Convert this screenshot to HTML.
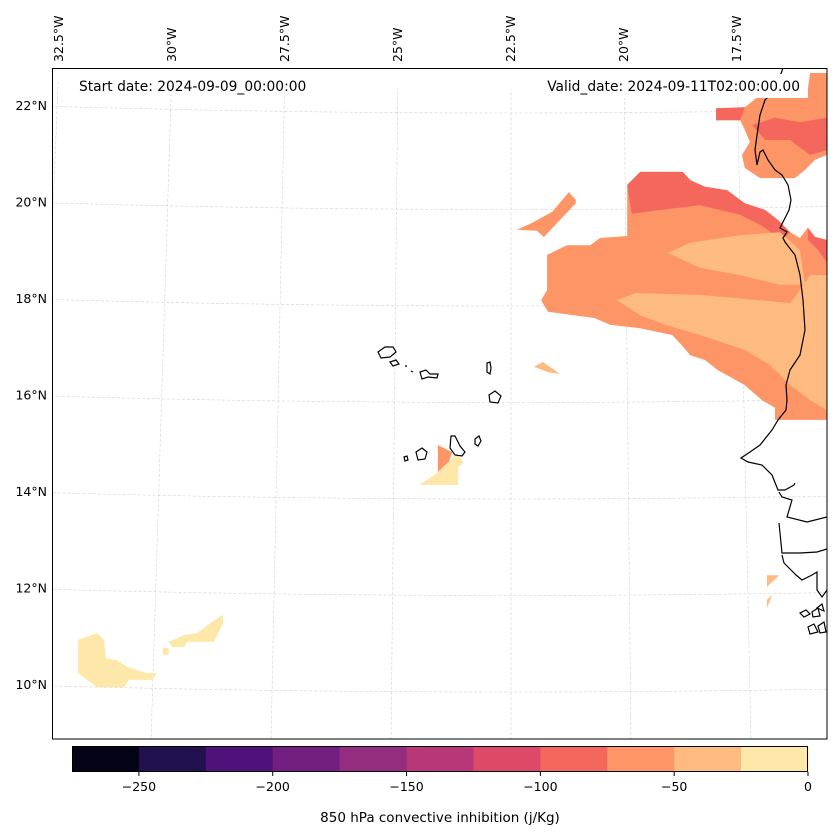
<!DOCTYPE html>
<html><head><meta charset="utf-8"><style>
html,body{margin:0;padding:0;background:#fff;overflow:hidden;font-family:"Liberation Sans","DejaVu Sans",sans-serif}
svg{display:block}
svg text{font-family:"DejaVu Sans","Liberation Sans",sans-serif;fill:#000}
</style></head><body>
<svg id="chart" width="837" height="836" viewBox="0 0 837 836" xmlns="http://www.w3.org/2000/svg">
<defs><clipPath id="mapclip"><rect x="52" y="68" width="775" height="671"/></clipPath></defs>
<rect width="837" height="836" fill="#fff"/>
<g id="grid" clip-path="url(#mapclip)"></g>
<g id="fields" clip-path="url(#mapclip)"></g>
<g id="coast" clip-path="url(#mapclip)" fill="none" stroke="#000" stroke-width="1.2">
<path d="M783,68 L775,90 L765,100 L760,115 L757,135 L755,150 L757,165 L760,152 L763,150 L768,160 L775,170 L782,175 L788,185 L791,200 L789,210 L783,222 L780,228 L787,232 L783,238 L785,242 L795,255 L800,275 L803,300 L805,330 L800,355 L790,370 L786,385 L787,400 L786,410 L778,420 L772,430 L760,445 L750,452 L741,458 L748,462 L762,465 L772,475 L778,490 L785,490 L794,485 L795,483 M779,492 L782,497 L792,500 L787,517 L807,522 L827,517 M779,523 L782,553 L800,553 L817,552 L827,549 M782,555 L784,563 L796,575 L802,580 L812,575 L817,572 L817,590 L822,597 L827,590"/>
<path d="M800,613 L806,610 L810,614 L804,617 Z M812,612 L818,608 L820,616 L813,617 Z M808,627 L814,624 L818,632 L810,634 Z M818,626 L824,622 L826,632 L820,633 Z M817,608 L822,604 L824,611 Z"/>
<path d="M378,352 L385,347 L393,347 L396,352 L390,357 L381,358 Z"/>
<path d="M390,362 L396,360 L399,364 L393,366 Z"/>
<path d="M420,372 L426,370 L430,374 L438,374 L437,378 L428,377 L422,379 Z"/>
<path d="M405,366 L407,366 M411,371 L413,372"/>
<path d="M487,363 L490,362 L491,368 L490,374 L487,372 Z"/>
<path d="M489,395 L495,391 L501,396 L498,403 L490,402 Z"/>
<path d="M475,439 L479,436 L481,441 L478,446 L475,444 Z"/>
<path d="M451,436 L455,436 L460,446 L465,452 L462,456 L455,455 L450,448 Z"/>
<path d="M416,452 L422,448 L427,452 L425,459 L418,460 Z"/>
<path d="M404,457 L407,456 L408,460 L405,461 Z"/>
</g>
<rect x="52.5" y="68.5" width="774.5" height="670.5" fill="none" stroke="#000" stroke-width="1"/>
<text x="79" y="91" font-size="13.8">Start date: 2024-09-09_00:00:00</text>
<rect x="538" y="74" width="270" height="24" fill="#fff"/>
<text x="800" y="91" font-size="13.8" text-anchor="end">Valid_date: 2024-09-11T02:00:00.00</text>
<g id="latlabels" font-size="12.5"></g>
<g id="lonlabels" font-size="12.5"></g>
<g id="cbar"></g>
<text x="440" y="822" font-size="13.5" text-anchor="middle">850 hPa convective inhibition (j/Kg)</text>
</svg>
<script>
// colorbar levels and colours
const levelBounds = [-275,-250,-225,-200,-175,-150,-125,-100,-75,-50,-25,0];
const levelColors = ["#050416","#21114e","#4f127b","#721f81","#942c80","#b73779","#dd4a69","#f3675c","#fd9567","#febb81","#fde7a9"];
const cbarTicks = [-250,-200,-150,-100,-50,0];
const latTicks = [22,20,18,16,14,12,10];
const lonTicks = [-32.5,-30,-27.5,-25,-22.5,-20,-17.5];
const gridLats = [10,12,14,16,18,20,22];
// filled contour regions: CIN value per region, and outlines in [lon,lat]
const regionValues = [-62,-88,-88,-37,-37,-62,-88,-88,-62,-37,-62,-12,-12,-12,-12,-37,-37];
const regionShapes = [
 [[-19.99,20.51],[-19.71,20.78],[-18.79,20.78],[-18.63,20.61],[-18.31,20.47],[-17.83,20.40],[-17.45,20.13],[-17.01,19.99],[-16.73,19.78],[-16.47,19.53],[-16.26,19.41],[-16.09,19.62],[-15.93,19.43],[-15.68,19.37],[-15.68,15.64],[-16.80,15.64],[-16.80,15.89],[-17.08,16.05],[-17.45,16.36],[-17.73,16.51],[-18.03,16.67],[-18.31,16.88],[-18.63,16.98],[-18.81,17.19],[-19.02,17.40],[-19.71,17.54],[-20.36,17.61],[-20.69,17.75],[-21.70,17.88],[-21.85,18.12],[-21.72,18.33],[-21.72,19.06],[-21.29,19.26],[-20.79,19.26],[-20.58,19.41],[-19.99,19.45]],
 [[-19.99,20.51],[-19.71,20.78],[-18.79,20.78],[-18.63,20.61],[-18.31,20.47],[-17.83,20.40],[-17.45,20.13],[-17.01,19.99],[-16.73,19.78],[-16.47,19.53],[-16.65,19.37],[-17.08,19.66],[-17.55,19.89],[-18.42,20.09],[-19.28,19.99],[-19.89,19.91]],
 [[-16.09,19.62],[-15.93,19.43],[-15.68,19.37],[-15.68,18.91],[-15.87,19.16],[-16.09,19.37]],
 [[-19.11,19.10],[-18.63,19.31],[-17.55,19.47],[-16.69,19.53],[-16.26,19.16],[-16.15,18.44],[-16.69,18.44],[-17.55,18.64],[-18.42,18.79]],
 [[-20.21,18.12],[-19.82,18.27],[-18.42,18.23],[-17.12,18.12],[-16.47,18.06],[-16.26,18.33],[-16.04,18.64],[-15.68,18.64],[-15.68,15.84],[-16.04,16.05],[-16.47,16.36],[-16.91,16.78],[-17.45,17.09],[-18.42,17.40],[-19.17,17.61],[-19.71,17.81]],
 [[-18.07,21.85],[-18.07,22.10],[-17.45,22.12],[-17.12,22.37],[-16.91,22.44],[-16.09,22.48],[-16.04,22.83],[-15.68,22.83],[-15.68,21.13],[-15.93,21.03],[-16.15,20.82],[-16.37,20.65],[-17.12,20.65],[-17.45,20.86],[-17.51,21.13],[-17.34,21.40],[-17.45,21.65],[-17.55,21.85]],
 [[-18.07,21.85],[-18.07,22.10],[-17.45,22.12],[-17.55,21.85]],
 [[-17.29,21.75],[-16.80,21.90],[-16.26,21.81],[-15.68,21.90],[-15.68,21.23],[-16.04,21.13],[-16.47,21.44],[-17.01,21.44]],
 [[-22.37,19.58],[-22.05,19.72],[-21.61,19.95],[-21.25,20.36],[-21.10,20.20],[-21.10,20.13],[-21.79,19.43],[-21.94,19.56]],
 [[-22.00,16.74],[-21.81,16.84],[-21.44,16.59],[-21.70,16.63]],
 [[-24.08,15.12],[-23.77,14.97],[-23.84,14.77],[-24.08,14.56]],
 [[-24.49,14.29],[-24.21,14.46],[-24.08,14.56],[-23.84,14.77],[-23.67,14.95],[-23.52,14.75],[-23.64,14.66],[-23.64,14.29]],
 [[-31.85,11.08],[-31.44,11.22],[-31.29,11.08],[-31.25,10.70],[-31.01,10.66],[-30.79,10.52],[-30.36,10.39],[-30.15,10.39],[-30.25,10.25],[-30.75,10.25],[-30.86,10.10],[-31.44,10.10],[-31.85,10.39]],
 [[-29.89,11.04],[-29.56,11.18],[-29.28,11.22],[-28.96,11.45],[-28.72,11.60],[-28.72,11.43],[-28.91,11.04],[-29.49,11.04],[-29.56,10.93],[-29.82,10.93]],
 [[-30.02,10.91],[-29.89,10.91],[-29.89,10.77],[-30.02,10.77]],
 [[-16.97,12.42],[-16.71,12.42],[-16.86,12.28],[-16.97,12.18]],
 [[-16.86,12.01],[-16.97,11.74],[-16.97,11.91]]
];
const NS="http://www.w3.org/2000/svg";
function mk(tag,attrs,parent){const e=document.createElementNS(NS,tag);for(const k in attrs)e.setAttribute(k,attrs[k]);parent.appendChild(e);return e;}
function px(lon){return 511+(lon+22.5)*46.3;}
function py(lat){return 113+(22-lat)*48.25;}
function gx(lon,lat){return 511+(lon+22.5)*(45.2+(22.9-lat)*0.2);}
function gy(lon,lat){const d=lon+22.5;return 113+(22-lat)*48.25-0.065*d*d;}
function colorFor(v){for(let i=0;i<levelColors.length;i++){if(v>=levelBounds[i]&&v<levelBounds[i+1])return levelColors[i];}return levelColors[levelColors.length-1];}
const grid=document.getElementById('grid');
gridLats.forEach(lat=>{let d='';for(let lon=-33;lon<=-15.5;lon+=0.5){d+=(d?'L':'M')+gx(lon,lat).toFixed(1)+','+gy(lon,lat).toFixed(1);}
 const p=mk('path',{d:d,fill:'none',stroke:'#d0d0d0','stroke-width':0.6,'stroke-dasharray':'3,2'},grid);
 
 });
lonTicks.concat([-15]).forEach(lon=>{let d='';for(let lat=9;lat<=22.9;lat+=0.5){d+=(d?'L':'M')+gx(lon,lat).toFixed(1)+','+gy(lon,lat).toFixed(1);}
 const p=mk('path',{d:d,fill:'none',stroke:'#d0d0d0','stroke-width':0.6,'stroke-dasharray':'3,2'},grid);
 
 });
const fields=document.getElementById('fields');
regionShapes.forEach((pts,i)=>{const d='M'+pts.map(p=>px(p[0]).toFixed(1)+','+py(p[1]).toFixed(1)).join('L')+'Z';
 const p=mk('path',{d:d,fill:colorFor(regionValues[i])},fields);
 
 });
const latg=document.getElementById('latlabels');
latTicks.forEach(lat=>{const t=mk('text',{x:47,y:py(lat)-7+4,'text-anchor':'end'},latg);t.textContent=lat+'°N';
 
 });
const long=document.getElementById('lonlabels');
lonTicks.forEach(lon=>{const x=gx(lon,22.9)+4;const t=mk('text',{x:0,y:0,transform:'translate('+x.toFixed(1)+',62) rotate(-90)'},long);t.textContent=Math.abs(lon)+'°W';
 
 });
const cb=document.getElementById('cbar');
const cx0=72,cx1=808,cy=746,ch=26;
function cbx(v){return cx0+(v-levelBounds[0])/(levelBounds[levelBounds.length-1]-levelBounds[0])*(cx1-cx0);}
levelColors.forEach((c,i)=>{const r=mk('rect',{x:cbx(levelBounds[i]),y:cy,width:cbx(levelBounds[i+1])-cbx(levelBounds[i])+0.5,height:ch,fill:c},cb);
 
 });
const fr=mk('rect',{x:cx0+0.5,y:cy+0.5,width:cx1-cx0-1,height:ch-1,fill:'none',stroke:'#000','stroke-width':1},cb);


cbarTicks.forEach(v=>{const x=cbx(v);mk('line',{x1:x,x2:x,y1:cy+ch,y2:cy+ch+4,stroke:'#000'},cb);
 const t=mk('text',{x:x,y:cy+ch+19,'text-anchor':'middle','font-size':12.5},cb);t.textContent=(v<0?'\u2212'+Math.abs(v):String(v));
 
 });
</script>
</body></html>
